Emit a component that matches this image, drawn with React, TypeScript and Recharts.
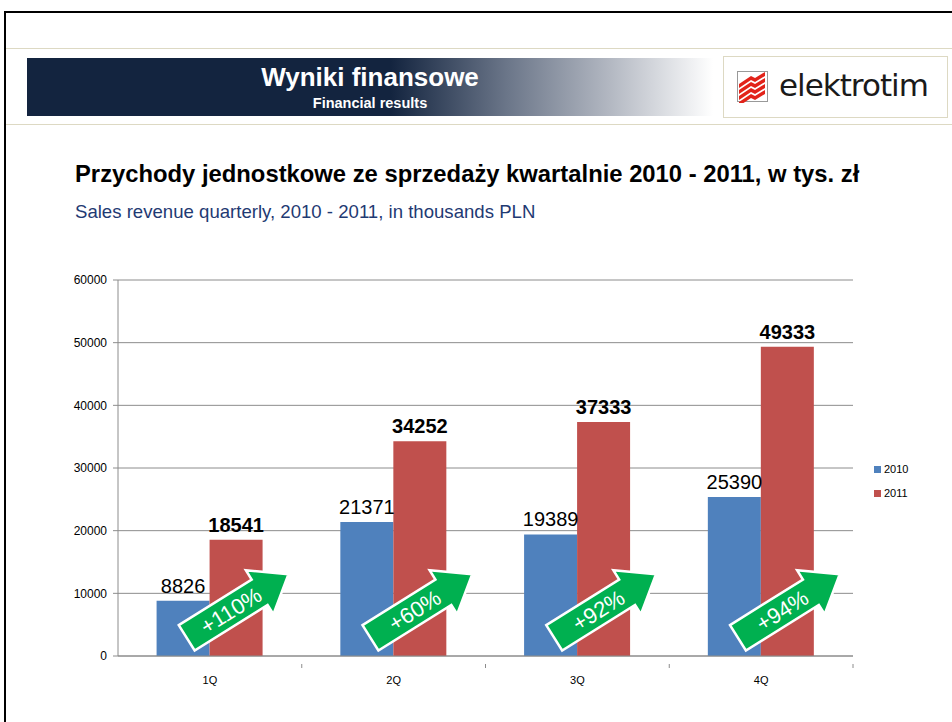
import React from "react";
import { BarChart, Bar, XAxis, YAxis, CartesianGrid, LabelList } from "recharts";

const quarters = ["1Q", "2Q", "3Q", "4Q"];
const sales2010 = [8826, 21371, 19389, 25390];
const sales2011 = [18541, 34252, 37333, 49333];
const growth = ["+110%", "+60%", "+92%", "+94%"];
const yTicks = [0, 10000, 20000, 30000, 40000, 50000, 60000];

const data = quarters.map((q, i) => ({
  q,
  y2010: sales2010[i],
  y2011: sales2011[i],
  growth: growth[i],
}));

const BLUE = "#4f81bd";
const RED = "#c0504d";
const GREEN = "#00b050";
const AXIS = "#8c8c8c";
const FONT = "'Liberation Sans', Arial, sans-serif";

const CHART_W = 952;
const CHART_H = 440;
const M = { top: 20, right: 99, left: 58, bottom: 14 };
const PLOT_W = CHART_W - M.left - M.right - 60;
const BAND = PLOT_W / quarters.length;

const XTick = (props: any) => {
  const { x, y, payload } = props;
  return (
    <g>
      <line x1={x + BAND / 2} y1={y} x2={x + BAND / 2} y2={y + 4} stroke={AXIS} />
      <text x={x} y={y + 20} textAnchor="middle" fontSize={11} fontFamily={FONT} fill="#000">
        {payload.value}
      </text>
    </g>
  );
};

// green growth arrow drawn over the pair of bars
const GrowthArrow = (props: any) => {
  const { x, y, height, value } = props;
  const cx = x + 28;
  const cy = y + height - 50;
  const len = 120;
  const bodyH = 30;
  const headH = 52;
  const headL = 34;
  const bx = -len / 2;
  const hx = len / 2 - headL;
  const pts = [
    [bx, -bodyH / 2],
    [hx, -bodyH / 2],
    [hx, -headH / 2],
    [len / 2, 0],
    [hx, headH / 2],
    [hx, bodyH / 2],
    [bx, bodyH / 2],
  ]
    .map((p) => p.join(","))
    .join(" ");
  return (
    <g transform={`translate(${cx},${cy}) rotate(-32)`}>
      <polygon points={pts} fill={GREEN} stroke="#fff" strokeWidth={2.5} strokeLinejoin="miter" />
      <text x={-8} y={8} textAnchor="middle" fontSize={22} fontFamily={FONT} fill="#fff">
        {value}
      </text>
    </g>
  );
};

export default function App() {
  return (
    <div style={{ position: "absolute", left: 0, top: 0, width: 952, height: 722, background: "#fff", overflow: "hidden", fontFamily: FONT }}>
      {/* slide frame */}
      <div style={{ position: "absolute", left: 4, top: 11, width: 960, height: 730, borderLeft: "2px solid #000", borderTop: "2px solid #000" }} />
      <div style={{ position: "absolute", left: 6, top: 48, width: 946, height: 1, background: "#ddd9c3" }} />
      <div style={{ position: "absolute", left: 6, top: 124, width: 946, height: 1, background: "#ddd9c3" }} />
      {/* header banner */}
      <div
        style={{
          position: "absolute",
          left: 27,
          top: 58,
          width: 686,
          height: 58,
          background: "linear-gradient(90deg, #13243f 0%, #13243f 53%, #6b7689 70%, #b3b8c2 85%, #ffffff 100%)",
        }}
      />
      <div style={{ position: "absolute", left: 27, top: 63, width: 686, textAlign: "center", color: "#fff", fontWeight: "bold" }}>
        <div style={{ fontSize: 26, lineHeight: "28px" }}>Wyniki finansowe</div>
        <div style={{ fontSize: 14.5, lineHeight: "18px", marginTop: 3 }}>Financial results</div>
      </div>
      {/* logo */}
      <div style={{ position: "absolute", left: 723, top: 56, width: 223, height: 60, border: "1px solid #ddd9c3", background: "#fff" }}>
        <svg width={32} height={32} style={{ position: "absolute", left: 13, top: 14 }}>
          <rect x={0.5} y={0.5} width={30} height={30} fill="#fff" stroke="#999" />
          {[0, 1, 2, 3].map((i) => (
            <polygon
              key={i}
              points={`2,${13 + i * 6} 14,${5 + i * 6} 18,${7 + i * 6} 28,${1 + i * 6} 28,${5 + i * 6} 18,${11 + i * 6} 14,${9 + i * 6} 2,${17 + i * 6}`}
              fill="#e2231a"
            />
          ))}
        </svg>
        <div style={{ position: "absolute", left: 55, top: 10, fontSize: 31, color: "#1a1a1a", fontFamily: "'DejaVu Sans', sans-serif", letterSpacing: -1 }}>elektrotim</div>
      </div>
      {/* titles */}
      <div style={{ position: "absolute", left: 75, top: 160, fontSize: 23.8, fontWeight: "bold", color: "#000", whiteSpace: "nowrap" }}>
        Przychody jednostkowe ze sprzedaży kwartalnie 2010 - 2011, w tys. zł
      </div>
      <div style={{ position: "absolute", left: 75, top: 201, fontSize: 18.6, color: "#1f3a73", whiteSpace: "nowrap" }}>
        Sales revenue quarterly, 2010 - 2011, in thousands PLN
      </div>
      {/* chart */}
      <div style={{ position: "absolute", left: 0, top: 260 }}>
        <BarChart width={CHART_W} height={CHART_H} data={data} margin={M} barGap={0} barCategoryGap="21%">
          <CartesianGrid vertical={false} stroke={AXIS} />
          <XAxis dataKey="q" stroke={AXIS} tickLine={false} tick={<XTick />} height={30} interval={0} />
          <YAxis
            stroke={AXIS}
            width={60}
            domain={[0, 60000]}
            ticks={yTicks}
            tickSize={5}
            tickMargin={6}
            tick={{ fontSize: 12, fill: "#000", fontFamily: FONT }}
          />
          <Bar dataKey="y2010" fill={BLUE} isAnimationActive={false}>
            <LabelList dataKey="y2010" position="top" offset={8} fontSize={20} fill="#000" fontFamily={FONT} />
          </Bar>
          <Bar dataKey="y2011" fill={RED} isAnimationActive={false}>
            <LabelList dataKey="y2011" position="top" offset={8} fontSize={20} fontWeight="bold" fill="#000" fontFamily={FONT} />
            <LabelList dataKey="growth" content={<GrowthArrow />} />
          </Bar>
        </BarChart>
      </div>
      {/* legend */}
      <div style={{ position: "absolute", left: 874, top: 457, fontSize: 11, color: "#000" }}>
        {[
          { name: "2010", color: BLUE },
          { name: "2011", color: RED },
        ].map((l) => (
          <div key={l.name} style={{ display: "flex", alignItems: "center", height: 24 }}>
            <span style={{ width: 7, height: 7, background: l.color, marginRight: 3 }} />
            <span>{l.name}</span>
          </div>
        ))}
      </div>
    </div>
  );
}
